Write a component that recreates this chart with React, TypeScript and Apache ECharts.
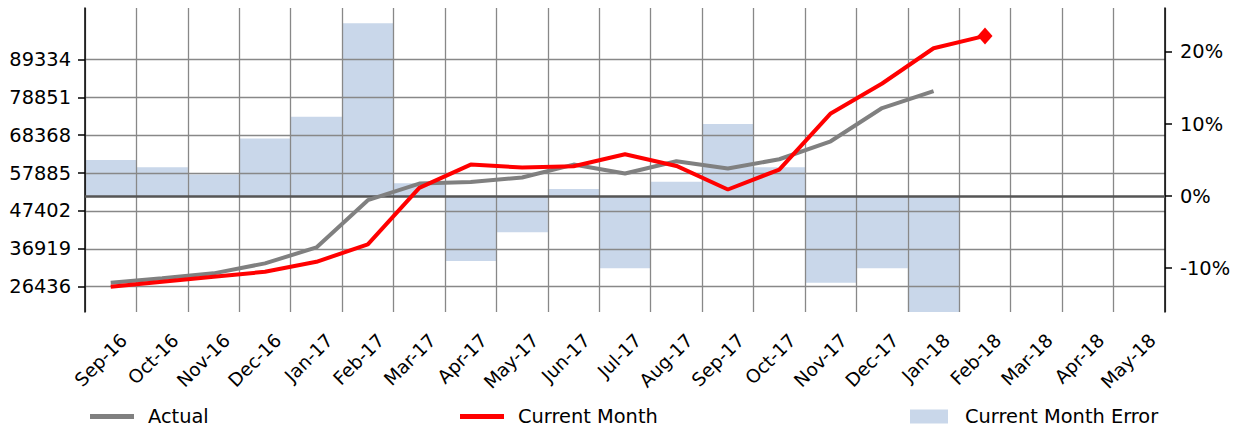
import React, { useEffect, useRef } from 'react';
import * as echarts from 'echarts';

const categories = [
  'Sep-16', 'Oct-16', 'Nov-16', 'Dec-16', 'Jan-17', 'Feb-17', 'Mar-17', 'Apr-17',
  'May-17', 'Jun-17', 'Jul-17', 'Aug-17', 'Sep-17', 'Oct-17', 'Nov-17', 'Dec-17',
  'Jan-18', 'Feb-18', 'Mar-18', 'Apr-18', 'May-18',
];

const actualValues = [
  27540, 28760, 30140, 32900, 37320, 50380, 54990, 55440, 56650, 60240, 57760,
  61160, 59140, 61710, 66680, 75880, 80570, null, null, null, null,
];

const currentMonthValues = [
  26440, 27820, 29200, 30580, 33340, 38150, 53780, 60240, 59420, 59780, 63090,
  59860, 53340, 58860, 74390, 82670, 92420, 95840, null, null, null,
];

const errorValues = [
  5, 4, 3, 8, 11, 24, 1.8, -9, -5, 1, -10, 2, 10, 4, -12, -10, -17,
  null, null, null, null,
];

const leftTicks = [26436, 36919, 47402, 57885, 68368, 78851, 89334];
const rightTicks = [-10, 0, 10, 20];

const FONT = 'DejaVu Sans';
const FS = 19.4;
const LINE_ICON = 'path://M0,0H44V5H0Z';

export default function App() {
  const ref = useRef<HTMLDivElement>(null);

  useEffect(() => {
    document.body.style.margin = '0';
    const chart = echarts.init(ref.current as HTMLDivElement, null, { renderer: 'svg' });
    const lastIdx = currentMonthValues.reduce((acc: number, v, i) => (v != null ? i : acc), 0);
    const currentData = currentMonthValues.map((v, i) =>
      i === lastIdx ? { value: v, symbol: 'diamond', symbolSize: [15, 17] } : v
    );
    const legendText = { fontSize: FS, fontFamily: FONT, color: '#000' };
    const legendBase = {
      top: 407,
      padding: 0,
      itemHeight: 14,
      selectedMode: false,
      symbolKeepAspect: true,
    };
    chart.setOption({
      animation: false,
      grid: { left: 85, right: 74, top: 8, bottom: 117 },
      xAxis: {
        type: 'category',
        data: categories,
        boundaryGap: true,
        z: 3,
        axisLine: { show: false },
        axisTick: { show: false },
        axisLabel: {
          interval: 0,
          rotate: 45,
          align: 'right',
          verticalAlign: 'top',
          lineHeight: 37,
          margin: 12,
          fontSize: 18.5,
          fontFamily: FONT,
          color: '#000',
        },
        splitLine: { show: true, interval: 0, lineStyle: { color: '#888', width: 1.3 } },
      },
      yAxis: [
        {
          type: 'value',
          position: 'left',
          min: 19448,
          max: 103558,
          z: 3,
          axisLine: { show: true, lineStyle: { color: '#000', width: 1.5 } },
          axisTick: { show: true, length: 7, lineStyle: { color: '#000', width: 1.5 }, customValues: leftTicks },
          axisLabel: {
            customValues: leftTicks,
            fontSize: FS,
            fontFamily: FONT,
            color: '#000',
            margin: 14,
            formatter: (v: number) => String(Math.round(v)),
          },
          splitLine: { show: true, lineStyle: { color: '#888', width: 1.3 } },
        },
        {
          type: 'value',
          position: 'right',
          min: -16.07,
          max: 26.1,
          z: 3,
          axisLine: { show: true, lineStyle: { color: '#000', width: 1.5 } },
          axisTick: { show: true, length: 7, lineStyle: { color: '#000', width: 1.5 }, customValues: rightTicks },
          axisLabel: {
            customValues: rightTicks,
            fontSize: FS,
            fontFamily: FONT,
            color: '#000',
            margin: 15,
            formatter: (v: number) => `${Math.round(v)}%`,
          },
          splitLine: { show: false },
        },
      ],
      legend: [
        {
          ...legendBase,
          data: [{ name: 'Actual', icon: LINE_ICON }],
          left: 90,
          itemWidth: 44,
          textStyle: { ...legendText, padding: [0, 0, 0, 9] },
        },
        {
          ...legendBase,
          data: [{ name: 'Current Month', icon: LINE_ICON }],
          left: 460,
          itemWidth: 44,
          textStyle: { ...legendText, padding: [0, 0, 0, 9] },
        },
        {
          ...legendBase,
          data: [{ name: 'Current Month Error', icon: 'rect' }],
          left: 910,
          itemWidth: 38,
          textStyle: { ...legendText, padding: [0, 0, 0, 12] },
        },
      ],
      series: [
        {
          name: 'Current Month Error',
          type: 'bar',
          yAxisIndex: 1,
          data: errorValues,
          barWidth: '100%',
          clip: true,
          z: 1,
          silent: true,
          itemStyle: { color: '#c9d7ea' },
          markLine: {
            silent: true,
            z: 4,
            symbol: ['none', 'none'],
            label: { show: false },
            lineStyle: { color: '#555', width: 2.5, type: 'solid' },
            data: [{ yAxis: 0 }],
          },
        },
        {
          name: 'Actual',
          type: 'line',
          yAxisIndex: 0,
          data: actualValues,
          symbol: 'none',
          z: 5,
          silent: true,
          lineStyle: { color: '#808080', width: 4 },
          itemStyle: { color: '#808080' },
        },
        {
          name: 'Current Month',
          type: 'line',
          yAxisIndex: 0,
          data: currentData,
          symbol: 'none',
          showSymbol: true,
          z: 6,
          silent: true,
          lineStyle: { color: '#ff0000', width: 4 },
          itemStyle: { color: '#ff0000' },
        },
      ],
    });
    return () => chart.dispose();
  }, []);

  return <div ref={ref} style={{ width: 1239, height: 429 }} />;
}
